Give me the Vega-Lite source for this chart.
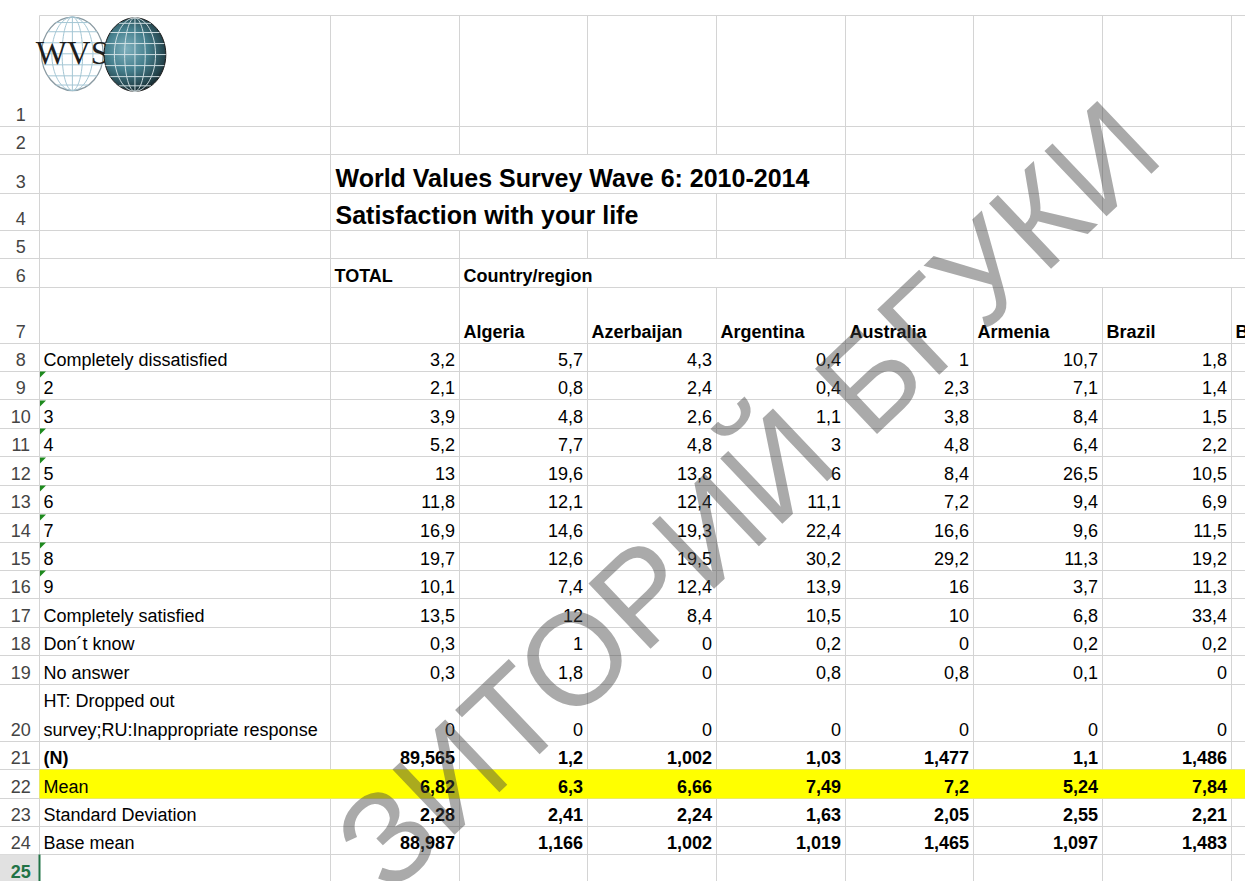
{
 "$schema": "https://vega.github.io/schema/vega-lite/v6.json",
 "width": 1245,
 "height": 881,
 "autosize": {"type": "none"},
 "padding": 0,
 "background": "#ffffff",
 "config": {"view": {"stroke": null}, "axis": {"disable": true}, "text": {"font": "Liberation Sans"}},
 "datasets": {
  "columns": [
   {"name": "TOTAL", "col": 2}, {"name": "Algeria", "col": 3}, {"name": "Azerbaijan", "col": 4},
   {"name": "Argentina", "col": 5}, {"name": "Australia", "col": 6}, {"name": "Armenia", "col": 7}, {"name": "Brazil", "col": 8}
  ],
  "titles": [
   {"row": 3, "col": 2, "text": "World Values Survey Wave 6: 2010-2014"},
   {"row": 4, "col": 2, "text": "Satisfaction with your life"}
  ],
  "headings": [
   {"row": 6, "col": 2, "text": "TOTAL"},
   {"row": 6, "col": 3, "text": "Country/region"},
   {"row": 7, "col": 3, "text": "Algeria"},
   {"row": 7, "col": 4, "text": "Azerbaijan"},
   {"row": 7, "col": 5, "text": "Argentina"},
   {"row": 7, "col": 6, "text": "Australia"},
   {"row": 7, "col": 7, "text": "Armenia"},
   {"row": 7, "col": 8, "text": "Brazil"},
   {"row": 7, "col": 9, "text": "Belarus"}
  ],
  "rowNumbers": [
   {"row": 1}, {"row": 2}, {"row": 3}, {"row": 4}, {"row": 5}, {"row": 6}, {"row": 7}, {"row": 8},
   {"row": 9}, {"row": 10}, {"row": 11}, {"row": 12}, {"row": 13}, {"row": 14}, {"row": 15}, {"row": 16},
   {"row": 17}, {"row": 18}, {"row": 19}, {"row": 20}, {"row": 21}, {"row": 22}, {"row": 23}, {"row": 24}
  ],
  "responses": [
   {"row": 8, "label": "Completely dissatisfied", "TOTAL": "3,2", "Algeria": "5,7", "Azerbaijan": "4,3", "Argentina": "0,4", "Australia": "1", "Armenia": "10,7", "Brazil": "1,8"},
   {"row": 9, "label": "2", "TOTAL": "2,1", "Algeria": "0,8", "Azerbaijan": "2,4", "Argentina": "0,4", "Australia": "2,3", "Armenia": "7,1", "Brazil": "1,4"},
   {"row": 10, "label": "3", "TOTAL": "3,9", "Algeria": "4,8", "Azerbaijan": "2,6", "Argentina": "1,1", "Australia": "3,8", "Armenia": "8,4", "Brazil": "1,5"},
   {"row": 11, "label": "4", "TOTAL": "5,2", "Algeria": "7,7", "Azerbaijan": "4,8", "Argentina": "3", "Australia": "4,8", "Armenia": "6,4", "Brazil": "2,2"},
   {"row": 12, "label": "5", "TOTAL": "13", "Algeria": "19,6", "Azerbaijan": "13,8", "Argentina": "6", "Australia": "8,4", "Armenia": "26,5", "Brazil": "10,5"},
   {"row": 13, "label": "6", "TOTAL": "11,8", "Algeria": "12,1", "Azerbaijan": "12,4", "Argentina": "11,1", "Australia": "7,2", "Armenia": "9,4", "Brazil": "6,9"},
   {"row": 14, "label": "7", "TOTAL": "16,9", "Algeria": "14,6", "Azerbaijan": "19,3", "Argentina": "22,4", "Australia": "16,6", "Armenia": "9,6", "Brazil": "11,5"},
   {"row": 15, "label": "8", "TOTAL": "19,7", "Algeria": "12,6", "Azerbaijan": "19,5", "Argentina": "30,2", "Australia": "29,2", "Armenia": "11,3", "Brazil": "19,2"},
   {"row": 16, "label": "9", "TOTAL": "10,1", "Algeria": "7,4", "Azerbaijan": "12,4", "Argentina": "13,9", "Australia": "16", "Armenia": "3,7", "Brazil": "11,3"},
   {"row": 17, "label": "Completely satisfied", "TOTAL": "13,5", "Algeria": "12", "Azerbaijan": "8,4", "Argentina": "10,5", "Australia": "10", "Armenia": "6,8", "Brazil": "33,4"},
   {"row": 18, "label": "Don´t know", "TOTAL": "0,3", "Algeria": "1", "Azerbaijan": "0", "Argentina": "0,2", "Australia": "0", "Armenia": "0,2", "Brazil": "0,2"},
   {"row": 19, "label": "No answer", "TOTAL": "0,3", "Algeria": "1,8", "Azerbaijan": "0", "Argentina": "0,8", "Australia": "0,8", "Armenia": "0,1", "Brazil": "0"},
   {"row": 20, "label": "HT: Dropped out\nsurvey;RU:Inappropriate response", "TOTAL": "0", "Algeria": "0", "Azerbaijan": "0", "Argentina": "0", "Australia": "0", "Armenia": "0", "Brazil": "0"}
  ],
  "statistics": [
   {"row": 21, "label": "(N)", "TOTAL": "89,565", "Algeria": "1,2", "Azerbaijan": "1,002", "Argentina": "1,03", "Australia": "1,477", "Armenia": "1,1", "Brazil": "1,486"},
   {"row": 22, "label": "Mean", "TOTAL": "6,82", "Algeria": "6,3", "Azerbaijan": "6,66", "Argentina": "7,49", "Australia": "7,2", "Armenia": "5,24", "Brazil": "7,84"},
   {"row": 23, "label": "Standard Deviation", "TOTAL": "2,28", "Algeria": "2,41", "Azerbaijan": "2,24", "Argentina": "1,63", "Australia": "2,05", "Armenia": "2,55", "Brazil": "2,21"},
   {"row": 24, "label": "Base mean", "TOTAL": "88,987", "Algeria": "1,166", "Azerbaijan": "1,002", "Argentina": "1,019", "Australia": "1,465", "Armenia": "1,097", "Brazil": "1,483"}
  ]
 },
 "resolve": {"scale": {"x": "independent"}},
 "layer": [
  {
   "layer": [
    {
     "data": {"values": [
      {"b": 0, "from": 1}, {"b": 1, "from": 0}, {"b": 2, "from": 0}, {"b": 3, "from": 0}, {"b": 4, "from": 0},
      {"b": 5, "from": 0}, {"b": 6, "from": 0}, {"b": 7, "from": 0}, {"b": 8, "from": 0}, {"b": 9, "from": 0},
      {"b": 10, "from": 0}, {"b": 11, "from": 0}, {"b": 12, "from": 0}, {"b": 13, "from": 0}, {"b": 14, "from": 0},
      {"b": 15, "from": 0}, {"b": 16, "from": 0}, {"b": 17, "from": 0}, {"b": 18, "from": 0}, {"b": 19, "from": 0},
      {"b": 20, "from": 0}, {"b": 21, "from": 0}, {"b": 22, "from": 0}, {"b": 23, "from": 0}, {"b": 24, "from": 0}, {"b": 25, "from": 0}
     ]},
     "mark": {"type": "rule", "color": "#d4d4d4", "strokeWidth": 1},
     "encoding": {
      "x": {"field": "from", "type": "quantitative", "scale": {"domain": [0,1,2,3,4,5,6,7,8,9,10], "range": [0,39.5,330.5,459.5,587.5,716.5,845.5,973.5,1102.5,1231.5,1360.5], "zero": false, "nice": false}},
      "x2": {"datum": 10},
      "y": {"field": "b", "type": "quantitative", "scale": {"domain": [0,1,2,3,4,5,6,7,8,9,10,11,12,13,14,15,16,17,18,19,20,21,22,23,24,25], "range": [15.5,126.5,154.5,193.5,230.5,258.5,287.5,343.5,371.5,399.5,428.5,456.5,485.5,513.5,542.5,570.5,598.5,627.5,655.5,684.5,741.5,769.5,798.5,826.5,854.5,883.5], "zero": false, "nice": false}}
     }
    },
    {
     "data": {"values": [
      {"b": 1, "r0": 0, "r1": 24},
      {"b": 2, "r0": 0, "r1": 25},
      {"b": 3, "r0": 0, "r1": 2}, {"b": 3, "r0": 4, "r1": 25},
      {"b": 4, "r0": 0, "r1": 2}, {"b": 4, "r0": 4, "r1": 5}, {"b": 4, "r0": 6, "r1": 25},
      {"b": 5, "r0": 0, "r1": 2}, {"b": 5, "r0": 3, "r1": 5}, {"b": 5, "r0": 6, "r1": 25},
      {"b": 6, "r0": 0, "r1": 5}, {"b": 6, "r0": 6, "r1": 25},
      {"b": 7, "r0": 0, "r1": 5}, {"b": 7, "r0": 6, "r1": 25},
      {"b": 8, "r0": 0, "r1": 5}, {"b": 8, "r0": 6, "r1": 25},
      {"b": 9, "r0": 0, "r1": 5}, {"b": 9, "r0": 6, "r1": 25}
     ]},
     "mark": {"type": "rule", "color": "#d4d4d4", "strokeWidth": 1},
     "encoding": {
      "x": {"field": "b", "type": "quantitative", "scale": {"domain": [0,1,2,3,4,5,6,7,8,9,10], "range": [0,39.5,330.5,459.5,587.5,716.5,845.5,973.5,1102.5,1231.5,1360.5], "zero": false, "nice": false}},
      "y": {"field": "r0", "type": "quantitative", "scale": {"domain": [0,1,2,3,4,5,6,7,8,9,10,11,12,13,14,15,16,17,18,19,20,21,22,23,24,25], "range": [15.5,126.5,154.5,193.5,230.5,258.5,287.5,343.5,371.5,399.5,428.5,456.5,485.5,513.5,542.5,570.5,598.5,627.5,655.5,684.5,741.5,769.5,798.5,826.5,854.5,883.5], "zero": false, "nice": false}},
      "y2": {"field": "r1"}
     }
    },
    {
     "data": {"values": [{}]},
     "mark": {"type": "rect", "color": "#ffff00"},
     "encoding": {
      "x": {"datum": 1, "type": "quantitative", "scale": {"domain": [0,1,2,3,4,5,6,7,8,9,10], "range": [0,39.5,330.5,459.5,587.5,716.5,845.5,973.5,1102.5,1231.5,1360.5], "zero": false, "nice": false}},
      "x2": {"datum": 10},
      "y": {"datum": 21, "type": "quantitative", "scale": {"domain": [0,1,2,3,4,5,6,7,8,9,10,11,12,13,14,15,16,17,18,19,20,21,22,23,24,25], "range": [15.5,126.5,154.5,193.5,230.5,258.5,287.5,343.5,371.5,399.5,428.5,456.5,485.5,513.5,542.5,570.5,598.5,627.5,655.5,684.5,741.5,769.5,798.5,826.5,854.5,883.5], "zero": false, "nice": false}},
      "y2": {"datum": 22}
     }
    },
    {
     "data": {"values": [{}]},
     "mark": {"type": "rect", "color": "#e1e1e1"},
     "encoding": {
      "x": {"datum": 0, "type": "quantitative", "scale": {"domain": [0,1,2,3,4,5,6,7,8,9,10], "range": [0,39.5,330.5,459.5,587.5,716.5,845.5,973.5,1102.5,1231.5,1360.5], "zero": false, "nice": false}},
      "x2": {"datum": 1},
      "y": {"datum": 24, "type": "quantitative", "scale": {"domain": [0,1,2,3,4,5,6,7,8,9,10,11,12,13,14,15,16,17,18,19,20,21,22,23,24,25], "range": [15.5,126.5,154.5,193.5,230.5,258.5,287.5,343.5,371.5,399.5,428.5,456.5,485.5,513.5,542.5,570.5,598.5,627.5,655.5,684.5,741.5,769.5,798.5,826.5,854.5,883.5], "zero": false, "nice": false}},
      "y2": {"datum": 25}
     }
    },
    {
     "data": {"values": [{}]},
     "mark": {"type": "rule", "color": "#217346", "strokeWidth": 2},
     "encoding": {
      "x": {"datum": 1, "type": "quantitative", "scale": {"domain": [0,1,2,3,4,5,6,7,8,9,10], "range": [0,39.5,330.5,459.5,587.5,716.5,845.5,973.5,1102.5,1231.5,1360.5], "zero": false, "nice": false}},
      "y": {"datum": 24, "type": "quantitative", "scale": {"domain": [0,1,2,3,4,5,6,7,8,9,10,11,12,13,14,15,16,17,18,19,20,21,22,23,24,25], "range": [15.5,126.5,154.5,193.5,230.5,258.5,287.5,343.5,371.5,399.5,428.5,456.5,485.5,513.5,542.5,570.5,598.5,627.5,655.5,684.5,741.5,769.5,798.5,826.5,854.5,883.5], "zero": false, "nice": false}},
      "y2": {"datum": 25}
     }
    },
    {
     "data": {"values": [{}]},
     "mark": {"type": "point", "shape": "M 0 -1 A 0.84 1 0 1 1 0 1 A 0.84 1 0 1 1 0 -1 Z", "size": 5400, "filled": true, "color": "#ffffff", "stroke": "#8a9aa2", "strokeWidth": 1.3, "opacity": 1},
     "encoding": {
      "x": {"datum": 1.113, "type": "quantitative", "scale": {"domain": [0,1,2,3,4,5,6,7,8,9,10], "range": [0,39.5,330.5,459.5,587.5,716.5,845.5,973.5,1102.5,1231.5,1360.5], "zero": false, "nice": false}},
      "y": {"datum": 0.345, "type": "quantitative", "scale": {"domain": [0,1,2,3,4,5,6,7,8,9,10,11,12,13,14,15,16,17,18,19,20,21,22,23,24,25], "range": [15.5,126.5,154.5,193.5,230.5,258.5,287.5,343.5,371.5,399.5,428.5,456.5,485.5,513.5,542.5,570.5,598.5,627.5,655.5,684.5,741.5,769.5,798.5,826.5,854.5,883.5], "zero": false, "nice": false}}
     }
    },
    {
     "data": {"values": [{}]},
     "mark": {"type": "point", "shape": "M 0 -1 L 0 1 M 0 -1 A 0.28 1 0 0 1 0 1 A 0.28 1 0 0 1 0 -1 M 0 -1 A 0.56 1 0 0 1 0 1 A 0.56 1 0 0 1 0 -1 M -0.84 0 L 0.84 0 M -0.8 -0.3 L 0.8 -0.3 M -0.8 0.3 L 0.8 0.3 M -0.67 -0.6 L 0.67 -0.6 M -0.67 0.6 L 0.67 0.6 M -0.44 -0.85 L 0.44 -0.85 M -0.44 0.85 L 0.44 0.85", "size": 5400, "filled": false, "color": "#a4c6d4", "strokeWidth": 1, "opacity": 1},
     "encoding": {
      "x": {"datum": 1.113, "type": "quantitative", "scale": {"domain": [0,1,2,3,4,5,6,7,8,9,10], "range": [0,39.5,330.5,459.5,587.5,716.5,845.5,973.5,1102.5,1231.5,1360.5], "zero": false, "nice": false}},
      "y": {"datum": 0.345, "type": "quantitative", "scale": {"domain": [0,1,2,3,4,5,6,7,8,9,10,11,12,13,14,15,16,17,18,19,20,21,22,23,24,25], "range": [15.5,126.5,154.5,193.5,230.5,258.5,287.5,343.5,371.5,399.5,428.5,456.5,485.5,513.5,542.5,570.5,598.5,627.5,655.5,684.5,741.5,769.5,798.5,826.5,854.5,883.5], "zero": false, "nice": false}}
     }
    },
    {
     "data": {"values": [{"logo": "WVS"}]},
     "mark": {"type": "text", "font": "Liberation Serif", "fontSize": 33, "color": "#1e1e1e", "align": "center", "baseline": "middle"},
     "encoding": {
      "x": {"datum": 1.113, "type": "quantitative", "scale": {"domain": [0,1,2,3,4,5,6,7,8,9,10], "range": [0,39.5,330.5,459.5,587.5,716.5,845.5,973.5,1102.5,1231.5,1360.5], "zero": false, "nice": false}},
      "y": {"datum": 0.345, "type": "quantitative", "scale": {"domain": [0,1,2,3,4,5,6,7,8,9,10,11,12,13,14,15,16,17,18,19,20,21,22,23,24,25], "range": [15.5,126.5,154.5,193.5,230.5,258.5,287.5,343.5,371.5,399.5,428.5,456.5,485.5,513.5,542.5,570.5,598.5,627.5,655.5,684.5,741.5,769.5,798.5,826.5,854.5,883.5], "zero": false, "nice": false}},
      "text": {"field": "logo", "type": "nominal"}
     }
    },
    {
     "data": {"values": [{}]},
     "mark": {"type": "point", "shape": "M 0 -1 A 0.84 1 0 1 1 0 1 A 0.84 1 0 1 1 0 -1 Z", "size": 5400, "filled": true, "opacity": 1, "stroke": "#1a1a1a", "strokeWidth": 1,
      "color": {"gradient": "radial", "x1": 0.38, "y1": 0.42, "r1": 0, "x2": 0.42, "y2": 0.45, "r2": 0.62,
        "stops": [{"offset": 0, "color": "#7fb0bd"}, {"offset": 0.45, "color": "#46808e"}, {"offset": 0.8, "color": "#24444c"}, {"offset": 1, "color": "#0b1114"}]}},
     "encoding": {
      "x": {"datum": 1.328, "type": "quantitative", "scale": {"domain": [0,1,2,3,4,5,6,7,8,9,10], "range": [0,39.5,330.5,459.5,587.5,716.5,845.5,973.5,1102.5,1231.5,1360.5], "zero": false, "nice": false}},
      "y": {"datum": 0.352, "type": "quantitative", "scale": {"domain": [0,1,2,3,4,5,6,7,8,9,10,11,12,13,14,15,16,17,18,19,20,21,22,23,24,25], "range": [15.5,126.5,154.5,193.5,230.5,258.5,287.5,343.5,371.5,399.5,428.5,456.5,485.5,513.5,542.5,570.5,598.5,627.5,655.5,684.5,741.5,769.5,798.5,826.5,854.5,883.5], "zero": false, "nice": false}}
     }
    },
    {
     "data": {"values": [{}]},
     "mark": {"type": "point", "shape": "M 0 -1 L 0 1 M 0 -1 A 0.28 1 0 0 1 0 1 A 0.28 1 0 0 1 0 -1 M 0 -1 A 0.56 1 0 0 1 0 1 A 0.56 1 0 0 1 0 -1 M -0.84 0 L 0.84 0 M -0.8 -0.3 L 0.8 -0.3 M -0.8 0.3 L 0.8 0.3 M -0.67 -0.6 L 0.67 -0.6 M -0.67 0.6 L 0.67 0.6 M -0.44 -0.85 L 0.44 -0.85 M -0.44 0.85 L 0.44 0.85", "size": 5400, "filled": false, "color": "#dde9ec", "strokeWidth": 1, "opacity": 0.9},
     "encoding": {
      "x": {"datum": 1.328, "type": "quantitative", "scale": {"domain": [0,1,2,3,4,5,6,7,8,9,10], "range": [0,39.5,330.5,459.5,587.5,716.5,845.5,973.5,1102.5,1231.5,1360.5], "zero": false, "nice": false}},
      "y": {"datum": 0.352, "type": "quantitative", "scale": {"domain": [0,1,2,3,4,5,6,7,8,9,10,11,12,13,14,15,16,17,18,19,20,21,22,23,24,25], "range": [15.5,126.5,154.5,193.5,230.5,258.5,287.5,343.5,371.5,399.5,428.5,456.5,485.5,513.5,542.5,570.5,598.5,627.5,655.5,684.5,741.5,769.5,798.5,826.5,854.5,883.5], "zero": false, "nice": false}}
     }
    },
    {
     "data": {"values": [{"row": 9}, {"row": 10}, {"row": 11}, {"row": 12}, {"row": 13}, {"row": 14}, {"row": 15}, {"row": 16}]},
     "mark": {"type": "point", "shape": "M -1 -1 L 1 -1 L -1 1 Z", "size": 36, "filled": true, "color": "#1e8a1e", "opacity": 1, "xOffset": 3.5, "yOffset": -25},
     "encoding": {
      "x": {"datum": 1, "type": "quantitative", "scale": {"domain": [0,1,2,3,4,5,6,7,8,9,10], "range": [0,39.5,330.5,459.5,587.5,716.5,845.5,973.5,1102.5,1231.5,1360.5], "zero": false, "nice": false}},
      "y": {"field": "row", "type": "quantitative", "scale": {"domain": [0,1,2,3,4,5,6,7,8,9,10,11,12,13,14,15,16,17,18,19,20,21,22,23,24,25], "range": [15.5,126.5,154.5,193.5,230.5,258.5,287.5,343.5,371.5,399.5,428.5,456.5,485.5,513.5,542.5,570.5,598.5,627.5,655.5,684.5,741.5,769.5,798.5,826.5,854.5,883.5], "zero": false, "nice": false}}
     }
    },
    {
     "data": {"name": "rowNumbers"},
     "mark": {"type": "text", "fontSize": 18, "color": "#444444", "align": "center", "baseline": "alphabetic", "dy": -6, "dx": 1},
     "encoding": {
      "x": {"datum": 0.5, "type": "quantitative", "scale": {"domain": [0,1,2,3,4,5,6,7,8,9,10], "range": [0,39.5,330.5,459.5,587.5,716.5,845.5,973.5,1102.5,1231.5,1360.5], "zero": false, "nice": false}},
      "y": {"field": "row", "type": "quantitative", "scale": {"domain": [0,1,2,3,4,5,6,7,8,9,10,11,12,13,14,15,16,17,18,19,20,21,22,23,24,25], "range": [15.5,126.5,154.5,193.5,230.5,258.5,287.5,343.5,371.5,399.5,428.5,456.5,485.5,513.5,542.5,570.5,598.5,627.5,655.5,684.5,741.5,769.5,798.5,826.5,854.5,883.5], "zero": false, "nice": false}},
      "text": {"field": "row", "type": "nominal"}
     }
    },
    {
     "data": {"values": [{"row": 25}]},
     "mark": {"type": "text", "fontSize": 18, "fontWeight": "bold", "color": "#217346", "align": "center", "baseline": "alphabetic", "dy": -6, "dx": 1},
     "encoding": {
      "x": {"datum": 0.5, "type": "quantitative", "scale": {"domain": [0,1,2,3,4,5,6,7,8,9,10], "range": [0,39.5,330.5,459.5,587.5,716.5,845.5,973.5,1102.5,1231.5,1360.5], "zero": false, "nice": false}},
      "y": {"field": "row", "type": "quantitative", "scale": {"domain": [0,1,2,3,4,5,6,7,8,9,10,11,12,13,14,15,16,17,18,19,20,21,22,23,24,25], "range": [15.5,126.5,154.5,193.5,230.5,258.5,287.5,343.5,371.5,399.5,428.5,456.5,485.5,513.5,542.5,570.5,598.5,627.5,655.5,684.5,741.5,769.5,798.5,826.5,854.5,883.5], "zero": false, "nice": false}},
      "text": {"field": "row", "type": "nominal"}
     }
    },
    {
     "data": {"name": "titles"},
     "mark": {"type": "text", "fontSize": 25, "fontWeight": "bold", "color": "#000000", "align": "left", "baseline": "alphabetic", "dx": 5, "dy": -6.5},
     "encoding": {
      "x": {"field": "col", "type": "quantitative", "scale": {"domain": [0,1,2,3,4,5,6,7,8,9,10], "range": [0,39.5,330.5,459.5,587.5,716.5,845.5,973.5,1102.5,1231.5,1360.5], "zero": false, "nice": false}},
      "y": {"field": "row", "type": "quantitative", "scale": {"domain": [0,1,2,3,4,5,6,7,8,9,10,11,12,13,14,15,16,17,18,19,20,21,22,23,24,25], "range": [15.5,126.5,154.5,193.5,230.5,258.5,287.5,343.5,371.5,399.5,428.5,456.5,485.5,513.5,542.5,570.5,598.5,627.5,655.5,684.5,741.5,769.5,798.5,826.5,854.5,883.5], "zero": false, "nice": false}},
      "text": {"field": "text", "type": "nominal"}
     }
    },
    {
     "data": {"name": "headings"},
     "mark": {"type": "text", "fontSize": 18, "fontWeight": "bold", "color": "#000000", "align": "left", "baseline": "alphabetic", "dx": 4, "dy": -6},
     "encoding": {
      "x": {"field": "col", "type": "quantitative", "scale": {"domain": [0,1,2,3,4,5,6,7,8,9,10], "range": [0,39.5,330.5,459.5,587.5,716.5,845.5,973.5,1102.5,1231.5,1360.5], "zero": false, "nice": false}},
      "y": {"field": "row", "type": "quantitative", "scale": {"domain": [0,1,2,3,4,5,6,7,8,9,10,11,12,13,14,15,16,17,18,19,20,21,22,23,24,25], "range": [15.5,126.5,154.5,193.5,230.5,258.5,287.5,343.5,371.5,399.5,428.5,456.5,485.5,513.5,542.5,570.5,598.5,627.5,655.5,684.5,741.5,769.5,798.5,826.5,854.5,883.5], "zero": false, "nice": false}},
      "text": {"field": "text", "type": "nominal"}
     }
    },
    {
     "data": {"name": "responses"},
     "transform": [{"filter": "datum.row != 20"}],
     "mark": {"type": "text", "fontSize": 18, "color": "#000000", "align": "left", "baseline": "alphabetic", "dx": 4, "dy": -6},
     "encoding": {
      "x": {"datum": 1, "type": "quantitative", "scale": {"domain": [0,1,2,3,4,5,6,7,8,9,10], "range": [0,39.5,330.5,459.5,587.5,716.5,845.5,973.5,1102.5,1231.5,1360.5], "zero": false, "nice": false}},
      "y": {"field": "row", "type": "quantitative", "scale": {"domain": [0,1,2,3,4,5,6,7,8,9,10,11,12,13,14,15,16,17,18,19,20,21,22,23,24,25], "range": [15.5,126.5,154.5,193.5,230.5,258.5,287.5,343.5,371.5,399.5,428.5,456.5,485.5,513.5,542.5,570.5,598.5,627.5,655.5,684.5,741.5,769.5,798.5,826.5,854.5,883.5], "zero": false, "nice": false}},
      "text": {"field": "label", "type": "nominal"}
     }
    },
    {
     "data": {"name": "responses"},
     "transform": [{"filter": "datum.row == 20"}],
     "mark": {"type": "text", "fontSize": 18, "color": "#000000", "align": "left", "baseline": "alphabetic", "dx": 4, "dy": -34.5, "lineBreak": "\n", "lineHeight": 28.5},
     "encoding": {
      "x": {"datum": 1, "type": "quantitative", "scale": {"domain": [0,1,2,3,4,5,6,7,8,9,10], "range": [0,39.5,330.5,459.5,587.5,716.5,845.5,973.5,1102.5,1231.5,1360.5], "zero": false, "nice": false}},
      "y": {"field": "row", "type": "quantitative", "scale": {"domain": [0,1,2,3,4,5,6,7,8,9,10,11,12,13,14,15,16,17,18,19,20,21,22,23,24,25], "range": [15.5,126.5,154.5,193.5,230.5,258.5,287.5,343.5,371.5,399.5,428.5,456.5,485.5,513.5,542.5,570.5,598.5,627.5,655.5,684.5,741.5,769.5,798.5,826.5,854.5,883.5], "zero": false, "nice": false}},
      "text": {"field": "label", "type": "nominal"}
     }
    },
    {
     "data": {"name": "statistics"},
     "transform": [{"filter": "datum.row != 21"}],
     "mark": {"type": "text", "fontSize": 18, "color": "#000000", "align": "left", "baseline": "alphabetic", "dx": 4, "dy": -6},
     "encoding": {
      "x": {"datum": 1, "type": "quantitative", "scale": {"domain": [0,1,2,3,4,5,6,7,8,9,10], "range": [0,39.5,330.5,459.5,587.5,716.5,845.5,973.5,1102.5,1231.5,1360.5], "zero": false, "nice": false}},
      "y": {"field": "row", "type": "quantitative", "scale": {"domain": [0,1,2,3,4,5,6,7,8,9,10,11,12,13,14,15,16,17,18,19,20,21,22,23,24,25], "range": [15.5,126.5,154.5,193.5,230.5,258.5,287.5,343.5,371.5,399.5,428.5,456.5,485.5,513.5,542.5,570.5,598.5,627.5,655.5,684.5,741.5,769.5,798.5,826.5,854.5,883.5], "zero": false, "nice": false}},
      "text": {"field": "label", "type": "nominal"}
     }
    },
    {
     "data": {"name": "statistics"},
     "transform": [{"filter": "datum.row == 21"}],
     "mark": {"type": "text", "fontSize": 18, "fontWeight": "bold", "color": "#000000", "align": "left", "baseline": "alphabetic", "dx": 4, "dy": -6},
     "encoding": {
      "x": {"datum": 1, "type": "quantitative", "scale": {"domain": [0,1,2,3,4,5,6,7,8,9,10], "range": [0,39.5,330.5,459.5,587.5,716.5,845.5,973.5,1102.5,1231.5,1360.5], "zero": false, "nice": false}},
      "y": {"field": "row", "type": "quantitative", "scale": {"domain": [0,1,2,3,4,5,6,7,8,9,10,11,12,13,14,15,16,17,18,19,20,21,22,23,24,25], "range": [15.5,126.5,154.5,193.5,230.5,258.5,287.5,343.5,371.5,399.5,428.5,456.5,485.5,513.5,542.5,570.5,598.5,627.5,655.5,684.5,741.5,769.5,798.5,826.5,854.5,883.5], "zero": false, "nice": false}},
      "text": {"field": "label", "type": "nominal"}
     }
    }
   ]
  },
  {
   "layer": [
    {
     "data": {"name": "responses"},
     "transform": [
      {"fold": ["TOTAL", "Algeria", "Azerbaijan", "Argentina", "Australia", "Armenia", "Brazil"], "as": ["country", "value"]},
      {"lookup": "country", "from": {"data": {"name": "columns"}, "key": "name", "fields": ["col"]}}
     ],
     "mark": {"type": "text", "fontSize": 18, "color": "#000000", "align": "right", "baseline": "alphabetic", "dx": -4.5, "dy": -6},
     "encoding": {
      "x": {"field": "col", "type": "quantitative", "scale": {"domain": [0,1,2,3,4,5,6,7,8,9], "range": [39.5,330.5,459.5,587.5,716.5,845.5,973.5,1102.5,1231.5,1360.5], "zero": false, "nice": false}},
      "y": {"field": "row", "type": "quantitative", "scale": {"domain": [0,1,2,3,4,5,6,7,8,9,10,11,12,13,14,15,16,17,18,19,20,21,22,23,24,25], "range": [15.5,126.5,154.5,193.5,230.5,258.5,287.5,343.5,371.5,399.5,428.5,456.5,485.5,513.5,542.5,570.5,598.5,627.5,655.5,684.5,741.5,769.5,798.5,826.5,854.5,883.5], "zero": false, "nice": false}},
      "text": {"field": "value", "type": "nominal"}
     }
    },
    {
     "data": {"name": "statistics"},
     "transform": [
      {"fold": ["TOTAL", "Algeria", "Azerbaijan", "Argentina", "Australia", "Armenia", "Brazil"], "as": ["country", "value"]},
      {"lookup": "country", "from": {"data": {"name": "columns"}, "key": "name", "fields": ["col"]}}
     ],
     "mark": {"type": "text", "fontSize": 18, "fontWeight": "bold", "color": "#000000", "align": "right", "baseline": "alphabetic", "dx": -4.5, "dy": -6},
     "encoding": {
      "x": {"field": "col", "type": "quantitative", "scale": {"domain": [0,1,2,3,4,5,6,7,8,9], "range": [39.5,330.5,459.5,587.5,716.5,845.5,973.5,1102.5,1231.5,1360.5], "zero": false, "nice": false}},
      "y": {"field": "row", "type": "quantitative", "scale": {"domain": [0,1,2,3,4,5,6,7,8,9,10,11,12,13,14,15,16,17,18,19,20,21,22,23,24,25], "range": [15.5,126.5,154.5,193.5,230.5,258.5,287.5,343.5,371.5,399.5,428.5,456.5,485.5,513.5,542.5,570.5,598.5,627.5,655.5,684.5,741.5,769.5,798.5,826.5,854.5,883.5], "zero": false, "nice": false}},
      "text": {"field": "value", "type": "nominal"}
     }
    }
   ]
  },
  {
   "data": {"values": [{"mark": "ЗИТОРИЙ БГУКИ"}]},
   "mark": {"type": "text", "font": "Liberation Sans", "fontSize": 131, "angle": -43.5, "color": "#444444", "opacity": 0.45, "align": "center", "baseline": "middle"},
   "encoding": {
    "x": {"datum": 5.27, "type": "quantitative", "scale": {"domain": [0,1,2,3,4,5,6,7,8,9,10], "range": [0,39.5,330.5,459.5,587.5,716.5,845.5,973.5,1102.5,1231.5,1360.5], "zero": false, "nice": false}},
    "y": {"datum": 12.5, "type": "quantitative", "scale": {"domain": [0,1,2,3,4,5,6,7,8,9,10,11,12,13,14,15,16,17,18,19,20,21,22,23,24,25], "range": [15.5,126.5,154.5,193.5,230.5,258.5,287.5,343.5,371.5,399.5,428.5,456.5,485.5,513.5,542.5,570.5,598.5,627.5,655.5,684.5,741.5,769.5,798.5,826.5,854.5,883.5], "zero": false, "nice": false}},
    "text": {"field": "mark", "type": "nominal"}
   }
  }
 ]
}
